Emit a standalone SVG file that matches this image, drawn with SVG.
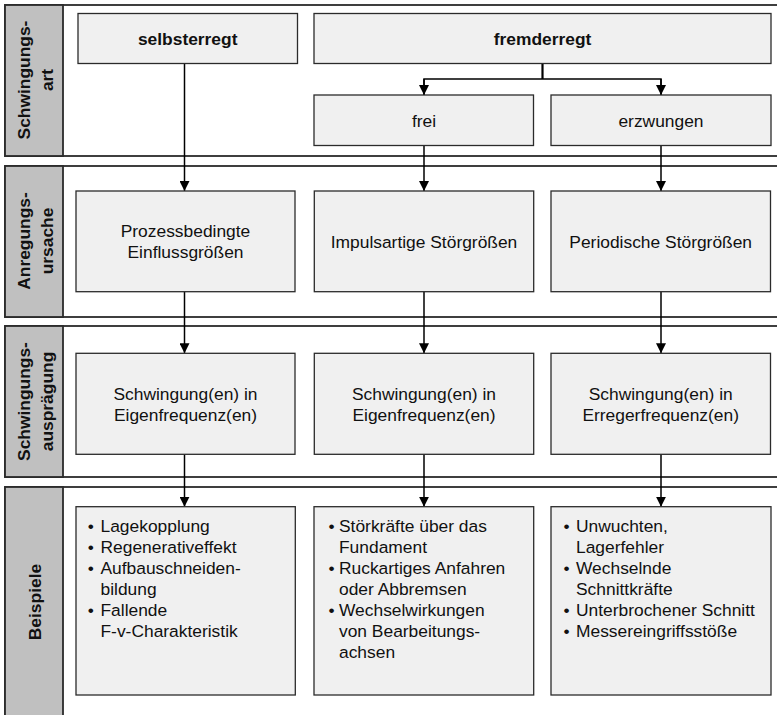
<svg xmlns="http://www.w3.org/2000/svg" width="777" height="715" viewBox="0 0 777 715">
  <style>
    .band { fill: #ffffff; stroke: #2b2b2b; stroke-width: 1.8; }
    .head { fill: #c0c0c0; stroke: #2b2b2b; stroke-width: 1.8; }
    .box { fill: #f0f0f0; stroke: #2b2b2b; stroke-width: 1.3; }
    text { font-family: "Liberation Sans", Arial, sans-serif; font-size: 17.4px; fill: #111111; }
    .b { font-weight: bold; }
    .c { text-anchor: middle; }
    .conn { stroke: #000000; stroke-width: 1.5; fill: none; }
  </style>
  <defs>
    <marker id="arrow" markerUnits="userSpaceOnUse" markerWidth="10" markerHeight="10" refX="10" refY="5" orient="auto">
      <path d="M0,0 L10,5 L0,10 z" fill="#000000"/>
    </marker>
  </defs>

  <!-- row bands with their grey heading column -->
  <g id="band-art">
    <rect class="band" x="5" y="5" width="790" height="151"/>
    <rect class="head" x="5" y="5" width="58" height="151"/>
    <text class="b c" transform="translate(34,80) rotate(-90)"><tspan x="0" y="-4.5">Schwingungs-</tspan><tspan x="0" y="18.5">art</tspan></text>
  </g>
  <g id="band-ursache">
    <rect class="band" x="5" y="166" width="790" height="151"/>
    <rect class="head" x="5" y="166" width="58" height="151"/>
    <text class="b c" transform="translate(34,241) rotate(-90)"><tspan x="0" y="-4.5">Anregungs-</tspan><tspan x="0" y="18.5">ursache</tspan></text>
  </g>
  <g id="band-auspraegung">
    <rect class="band" x="5" y="326" width="790" height="151"/>
    <rect class="head" x="5" y="326" width="58" height="151"/>
    <text class="b c" transform="translate(34,401.5) rotate(-90)"><tspan x="0" y="-4.5">Schwingungs-</tspan><tspan x="0" y="18.5">ausprägung</tspan></text>
  </g>
  <g id="band-beispiele">
    <rect class="band" x="5" y="487" width="790" height="260"/>
    <rect class="head" x="5" y="487" width="58" height="260"/>
    <text class="b c" transform="translate(34,602) rotate(-90)" y="6.5">Beispiele</text>
  </g>

  <!-- connectors -->
  <g id="connectors">
    <line class="conn" x1="184.5" y1="63.5" x2="184.5" y2="191" marker-end="url(#arrow)"/>
    <line class="conn" x1="542.5" y1="63.5" x2="542.5" y2="79" style="stroke-width:2.2"/>
    <polyline class="conn" points="424,95 424,79 661,79 661,95" style="marker-end:none"/>
    <line class="conn" x1="424" y1="79" x2="424" y2="95" marker-end="url(#arrow)"/>
    <line class="conn" x1="661" y1="79" x2="661" y2="95" marker-end="url(#arrow)"/>
    <line class="conn" x1="424" y1="145.5" x2="424" y2="191" marker-end="url(#arrow)"/>
    <line class="conn" x1="661" y1="145.5" x2="661" y2="191" marker-end="url(#arrow)"/>
    <line class="conn" x1="184.5" y1="291.7" x2="184.5" y2="353.3" marker-end="url(#arrow)"/>
    <line class="conn" x1="424" y1="291.7" x2="424" y2="353.3" marker-end="url(#arrow)"/>
    <line class="conn" x1="661" y1="291.7" x2="661" y2="353.3" marker-end="url(#arrow)"/>
    <line class="conn" x1="184.5" y1="454.3" x2="184.5" y2="506.7" marker-end="url(#arrow)"/>
    <line class="conn" x1="424" y1="454.3" x2="424" y2="506.7" marker-end="url(#arrow)"/>
    <line class="conn" x1="661" y1="454.3" x2="661" y2="506.7" marker-end="url(#arrow)"/>
  </g>

  <!-- Schwingungsart -->
  <g id="selbsterregt">
    <rect class="box" x="78" y="13.5" width="219.5" height="50"/>
    <text class="b c" x="187.7" y="44.5">selbsterregt</text>
  </g>
  <g id="fremderregt">
    <rect class="box" x="314" y="13.5" width="457" height="50"/>
    <text class="b c" x="542.5" y="44.5">fremderregt</text>
  </g>
  <g id="frei">
    <rect class="box" x="314" y="95" width="219.5" height="50.5"/>
    <text class="c" x="424" y="126.5">frei</text>
  </g>
  <g id="erzwungen">
    <rect class="box" x="551" y="95" width="220" height="50.5"/>
    <text class="c" x="661" y="126.5">erzwungen</text>
  </g>

  <!-- Anregungsursache -->
  <g id="prozessbedingt">
    <rect class="box" x="76" y="191" width="219" height="100.7"/>
    <text class="c" x="185.5" y="237"><tspan x="185.5">Prozessbedingte</tspan><tspan x="185.5" y="258">Einflussgrößen</tspan></text>
  </g>
  <g id="impulsartig">
    <rect class="box" x="314.3" y="191" width="219.4" height="100.7"/>
    <text class="c" x="424" y="247.5">Impulsartige Störgrößen</text>
  </g>
  <g id="periodisch">
    <rect class="box" x="551" y="191" width="219.5" height="100.7"/>
    <text class="c" x="660.7" y="247.5">Periodische Störgrößen</text>
  </g>

  <!-- Schwingungsauspraegung -->
  <g id="eigen-1">
    <rect class="box" x="76" y="353.3" width="219" height="101"/>
    <text class="c" x="185.5" y="399.5"><tspan x="185.5">Schwingung(en) in</tspan><tspan x="185.5" y="420.5">Eigenfrequenz(en)</tspan></text>
  </g>
  <g id="eigen-2">
    <rect class="box" x="314.3" y="353.3" width="219.4" height="101"/>
    <text class="c" x="424" y="399.5"><tspan x="424">Schwingung(en) in</tspan><tspan x="424" y="420.5">Eigenfrequenz(en)</tspan></text>
  </g>
  <g id="erreger">
    <rect class="box" x="551" y="353.3" width="219.5" height="101"/>
    <text class="c" x="660.7" y="399.5"><tspan x="660.7">Schwingung(en) in</tspan><tspan x="660.7" y="420.5">Erregerfrequenz(en)</tspan></text>
  </g>

  <!-- Beispiele -->
  <g id="beispiele-selbst">
    <rect class="box" x="76" y="506.7" width="219.3" height="188.3"/>
    <text class="c" x="90.7" y="531.7">•</text>
    <text class="c" x="90.7" y="552.8">•</text>
    <text class="c" x="90.7" y="573.9">•</text>
    <text class="c" x="90.7" y="616.1">•</text>
    <text x="100.5" y="531.7">Lagekopplung</text>
    <text x="100.5" y="552.8">Regenerativeffekt</text>
    <text x="100.5" y="573.9">Aufbauschneiden-</text>
    <text x="100.5" y="595">bildung</text>
    <text x="100.5" y="616.1">Fallende</text>
    <text x="100.5" y="637.2">F-v-Charakteristik</text>
  </g>
  <g id="beispiele-frei">
    <rect class="box" x="314" y="506.7" width="219.7" height="188.3"/>
    <text class="c" x="331.5" y="531.7">•</text>
    <text class="c" x="331.5" y="573.9">•</text>
    <text class="c" x="331.5" y="616.1">•</text>
    <text x="339" y="531.7">Störkräfte über das</text>
    <text x="339" y="552.8">Fundament</text>
    <text x="339" y="573.9">Ruckartiges Anfahren</text>
    <text x="339" y="595">oder Abbremsen</text>
    <text x="339" y="616.1">Wechselwirkungen</text>
    <text x="339" y="637.2">von Bearbeitungs-</text>
    <text x="339" y="658.3">achsen</text>
  </g>
  <g id="beispiele-erzwungen">
    <rect class="box" x="551" y="506.7" width="220" height="188.3"/>
    <text class="c" x="566.5" y="531.7">•</text>
    <text class="c" x="566.5" y="573.9">•</text>
    <text class="c" x="566.5" y="616.1">•</text>
    <text class="c" x="566.5" y="637.2">•</text>
    <text x="576" y="531.7">Unwuchten,</text>
    <text x="576" y="552.8">Lagerfehler</text>
    <text x="576" y="573.9">Wechselnde</text>
    <text x="576" y="595">Schnittkräfte</text>
    <text x="576" y="616.1">Unterbrochener Schnitt</text>
    <text x="576" y="637.2">Messereingriffsstöße</text>
  </g>
</svg>
